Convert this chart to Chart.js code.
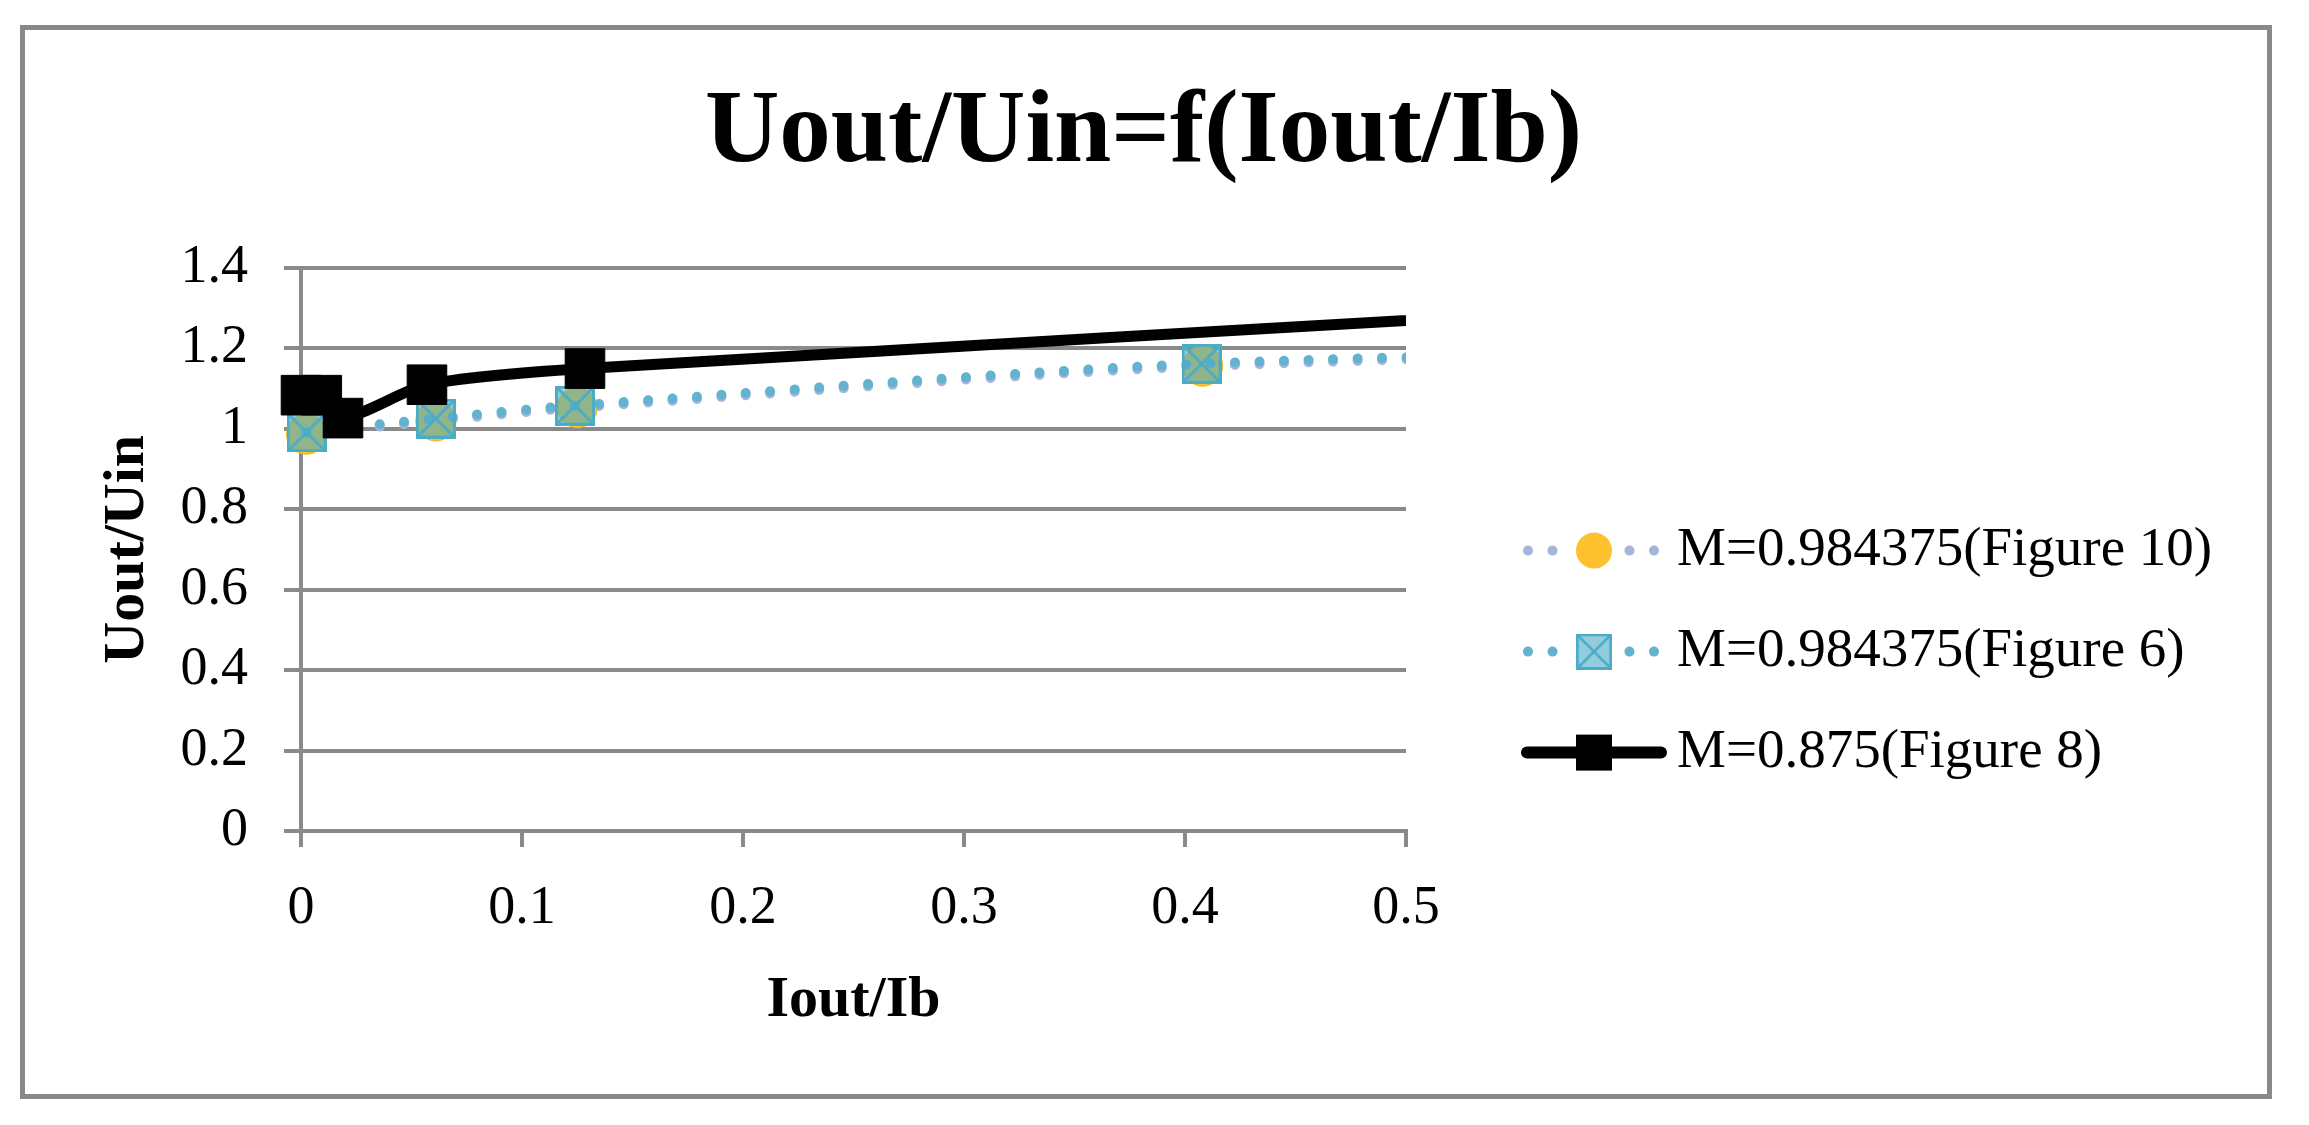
<!DOCTYPE html>
<html>
<head>
<meta charset="utf-8">
<script src="https://cdn.jsdelivr.net/npm/chart.js@4.4.1/dist/chart.umd.min.js"></script>
<style>
  html, body { margin: 0; padding: 0; background: #fff; }
  #frame { position: absolute; left: 20px; top: 25px; width: 2242px; height: 1064px; border: 5px solid #898989; }
  #chart { display: block; }
</style>
</head>
<body>
<div id="frame"><canvas id="chart" width="2242" height="1064"></canvas></div>
<script>
// tick labels
const xTickLabels = ['0', '0.1', '0.2', '0.3', '0.4', '0.5'];
const yTickLabels = ['0', '0.2', '0.4', '0.6', '0.8', '1', '1.2', '1.4'];

// series (Iout/Ib -> Uout/Uin), last point of each lies past the axis end
const seriesNames = ['M=0.984375(Figure 10)', 'M=0.984375(Figure 6)', 'M=0.875(Figure 8)'];
const fig10X = [0.0025, 0.061, 0.125, 0.408, 0.8];
const fig10Y = [0.986, 1.019, 1.052, 1.155, 1.205];
const fig6X = [0.0025, 0.061, 0.124, 0.4075, 0.8];
const fig6Y = [0.991, 1.025, 1.057, 1.161, 1.21];
const fig8X = [0, 0.0094, 0.019, 0.057, 0.1285, 0.6];
const fig8Y = [1.083, 1.083, 1.026, 1.109, 1.149, 1.30];

const pts = (xs, ys) => xs.map((x, i) => ({ x: x, y: ys[i] }));

const gridColor = '#8a8a8a';
const dots = [0.01, 24.5];

// square marker with an x in it
function boxCross(size) {
    const c = document.createElement('canvas');
    c.width = size; c.height = size;
    const g = c.getContext('2d');
    g.fillStyle = 'rgba(75,172,198,0.6)';
    g.fillRect(0, 0, size, size);
    g.strokeStyle = '#4bacc6';
    g.lineWidth = 3;
    g.strokeRect(1.5, 1.5, size - 3, size - 3);
    g.beginPath();
    g.moveTo(2, 2); g.lineTo(size - 2, size - 2);
    g.moveTo(size - 2, 2); g.lineTo(2, size - 2);
    g.stroke();
    return c;
}

// legend drawn at the right, line sample + marker + text
const sideLegend = {
    id: 'sideLegend',
    afterDraw(chart) {
        const { ctx, chartArea } = chart;
        const x0 = chartArea.right + 115;
        const sampleW = 146;
        ctx.save();
        chart.data.datasets.forEach((ds, i) => {
            const y = chartArea.top + 283 + i * 101;
            const cx = x0 + sampleW / 2;
            ctx.strokeStyle = ds.borderColor;
            ctx.lineCap = 'round';
            ctx.beginPath();
            if (ds.borderDash) {
                ctx.lineWidth = ds.borderWidth;
                ctx.setLineDash(ds.borderDash);
                ctx.moveTo(x0 + 7, y); ctx.lineTo(cx - 20, y);
                ctx.moveTo(x0 + sampleW - 13, y); ctx.lineTo(cx + 20, y);
            } else {
                ctx.lineWidth = 12;
                ctx.setLineDash([]);
                ctx.moveTo(x0 + 6, y); ctx.lineTo(x0 + sampleW - 6, y);
            }
            ctx.stroke();
            ctx.setLineDash([]);
            if (ds.pointStyle instanceof HTMLCanvasElement) {
                ctx.drawImage(ds.pointStyle, cx - 18, y - 18, 36, 36);
            } else if (ds.pointStyle === 'circle') {
                ctx.beginPath();
                ctx.arc(cx, y, 18, 0, 2 * Math.PI);
                ctx.fillStyle = ds.pointBackgroundColor;
                ctx.fill();
            } else {
                ctx.fillStyle = ds.pointBackgroundColor;
                ctx.fillRect(cx - 18, y - 18, 36, 36);
            }
            ctx.fillStyle = '#000';
            ctx.font = '55px "Liberation Serif"';
            ctx.textBaseline = 'middle';
            ctx.textAlign = 'left';
            ctx.fillText(ds.label, x0 + 156, y);
        });
        ctx.restore();
    }
};

Chart.defaults.font.family = '"Liberation Serif", serif';
Chart.defaults.color = '#000';

const clipArea = { left: 40, top: 40, right: 0, bottom: 40 };

new Chart(document.getElementById('chart'), {
    type: 'scatter',
    data: {
        datasets: [{
            label: seriesNames[0],
            data: pts(fig10X, fig10Y),
            showLine: true,
            borderColor: '#a4b6da',
            borderWidth: 10,
            borderDash: dots,
            borderCapStyle: 'round',
            tension: 0.3,
            pointStyle: 'circle',
            pointRadius: 20,
            pointBackgroundColor: '#fcc12d',
            pointBorderColor: '#f2b51d',
            pointBorderWidth: 1,
            clip: clipArea,
            yAxisID: 'y',
            order: 2
        }, {
            label: seriesNames[1],
            data: pts(fig6X, fig6Y),
            showLine: true,
            borderColor: '#62b2d0',
            borderWidth: 10,
            borderDash: dots,
            borderCapStyle: 'round',
            tension: 0.3,
            pointStyle: boxCross(40),
            pointRadius: 20,
            clip: clipArea,
            yAxisID: 'y',
            order: 1
        }, {
            label: seriesNames[2],
            data: pts(fig8X, fig8Y),
            showLine: true,
            borderColor: '#000',
            borderWidth: 11,
            tension: 0.25,
            pointStyle: 'rect',
            pointRadius: 28,
            pointBackgroundColor: '#000',
            pointBorderColor: '#000',
            pointBorderWidth: 1,
            clip: clipArea,
            yAxisID: 'y',
            order: 0
        }]
    },
    options: {
        responsive: false,
        animation: false,
        layout: { padding: { left: 50, right: 55, top: 0, bottom: 40 } },
        plugins: {
            legend: { display: false },
            tooltip: { enabled: false },
            title: {
                display: true,
                text: 'Uout/Uin=f(Iout/Ib)',
                font: { size: 103, weight: 'bold' },
                color: '#000',
                padding: { top: 43, bottom: 71 }
            }
        },
        scales: {
            x: {
                type: 'linear',
                position: 'bottom',
                min: 0,
                max: 0.5,
                ticks: { stepSize: 0.1, padding: 29, maxRotation: 0, font: { size: 54 }, callback: (v, i) => xTickLabels[i] },
                grid: { drawOnChartArea: false, color: gridColor, lineWidth: 4, tickLength: 16 },
                border: { color: gridColor, width: 4 },
                title: { display: true, text: 'Iout/Ib', font: { size: 58, weight: 'bold' }, padding: { top: 0, bottom: 18 } },
                afterFit: s => { s.height = 223; }
            },
            y: {
                type: 'linear',
                position: 'left',
                min: 0,
                max: 1.4,
                ticks: { stepSize: 0.2, padding: 36, font: { size: 54 }, callback: (v, i) => yTickLabels[i] },
                grid: { color: gridColor, lineWidth: 4, tickLength: 17 },
                border: { color: gridColor, width: 4 },
                title: { display: true, text: 'Uout/Uin', font: { size: 58, weight: 'bold' }, padding: { top: 18, bottom: 0 } },
                afterFit: s => { s.width = 226; }
            },
            // empty axis that keeps room on the right for the legend
            yPad: {
                type: 'linear',
                position: 'right',
                ticks: { display: false },
                grid: { display: false },
                border: { display: false },
                afterFit: s => { s.width = 806; }
            }
        }
    },
    plugins: [sideLegend]
});
</script>
</body>
</html>
